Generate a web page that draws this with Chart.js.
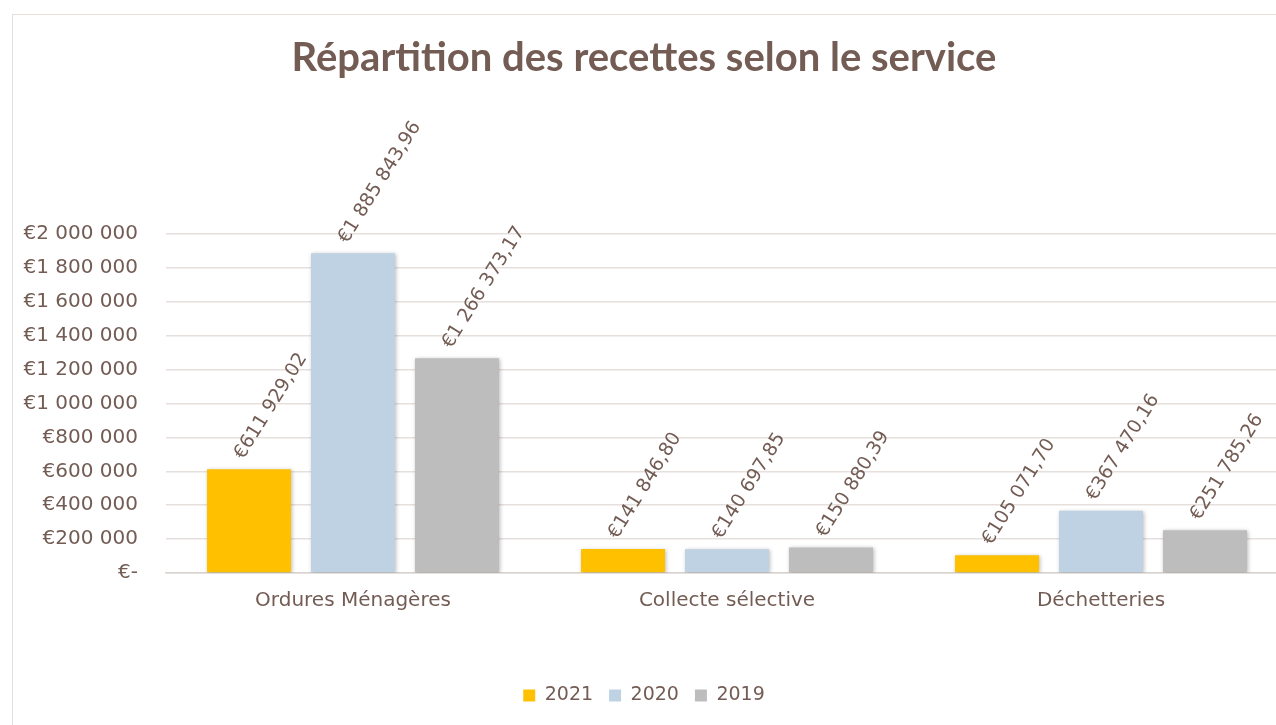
<!DOCTYPE html>
<html lang="fr">
<head>
<meta charset="utf-8">
<title>Répartition des recettes selon le service</title>
<script src="https://cdn.jsdelivr.net/npm/chart.js@4.4.1/dist/chart.umd.min.js"></script>
<style>
    html, body {
        margin: 0;
        padding: 0;
        background: #ffffff;
        overflow: hidden;
        width: 1276px;
        height: 725px;
    }
    .frame {
        position: absolute;
        left: 12px;
        top: 14px;
        width: 1400px;
        height: 800px;
        border: 1px solid #e6e0dd;
    }
    #recettesChart {
        position: absolute;
        left: 0;
        top: 0;
    }
</style>
</head>
<body>
<div class="frame"></div>
<canvas id="recettesChart" width="1300" height="725"></canvas>

<script>
// Chart data
const categories = ['Ordures Ménagères', 'Collecte sélective', 'Déchetteries'];
const years = ['2021', '2020', '2019'];
const values2021 = [611929.02, 141846.80, 105071.70];
const values2020 = [1885843.96, 140697.85, 367470.16];
const values2019 = [1266373.17, 150880.39, 251785.26];
const yTicks = [0, 200000, 400000, 600000, 800000, 1000000, 1200000, 1400000, 1600000, 1800000, 2000000];

const brown = '#735c54';
const gridColor = '#e6e0dd';

// "€1 885 843,96" style formatting
function groupDigits(n) {
    return String(n).replace(/\B(?=(\d{3})+(?!\d))/g, ' ');
}

function formatEuro(value) {
    const parts = value.toFixed(2).split('.');
    return '€' + groupDigits(parts[0]) + ',' + parts[1];
}

function formatTick(value) {
    if (value === 0) return '€-';
    return '€' + groupDigits(Math.round(value));
}

// Soft shadow under the bars, like the Excel original
const barShadow = {
    id: 'barShadow',
    beforeDatasetsDraw(chart) {
        const ctx = chart.ctx;
        ctx.save();
        ctx.shadowColor = 'rgba(0, 0, 0, 0.28)';
        ctx.shadowBlur = 4;
        ctx.shadowOffsetX = 1;
        ctx.shadowOffsetY = 1;
    },
    afterDatasetsDraw(chart) {
        chart.ctx.restore();
    }
};

// Rotated value labels above each bar
const valueLabels = {
    id: 'valueLabels',
    afterDatasetsDraw(chart) {
        const ctx = chart.ctx;
        ctx.save();
        ctx.fillStyle = brown;
        ctx.font = '19px "DejaVu Sans", sans-serif';
        ctx.textAlign = 'left';
        ctx.textBaseline = 'middle';
        chart.data.datasets.forEach(function (ds, i) {
            const meta = chart.getDatasetMeta(i);
            meta.data.forEach(function (bar, j) {
                ctx.save();
                ctx.translate(bar.x - 10, bar.y - 12);
                ctx.rotate(-58 * Math.PI / 180);
                ctx.fillText(formatEuro(ds.data[j]), 0, 0);
                ctx.restore();
            });
        });
        ctx.restore();
    }
};

function initChart() {
    const ctx = document.getElementById('recettesChart');
    if (!ctx) return;

    new Chart(ctx, {
        type: 'bar',
        data: {
            labels: categories,
            datasets: [
                { label: years[0], data: values2021, backgroundColor: '#ffc000' },
                { label: years[1], data: values2020, backgroundColor: '#bed2e4' },
                { label: years[2], data: values2019, backgroundColor: '#bdbdbd' }
            ]
        },
        options: {
            responsive: false,
            animation: false,
            devicePixelRatio: 1,
            categoryPercentage: 0.834,
            barPercentage: 0.808,
            layout: {
                padding: { left: 0, right: 12, top: 14, bottom: 10 }
            },
            plugins: {
                title: {
                    display: true,
                    text: 'Répartition des recettes selon le service',
                    color: brown,
                    font: { family: 'Lato, sans-serif', size: 40, weight: 'bold' },
                    padding: { top: 20, bottom: 152 }
                },
                legend: {
                    position: 'bottom',
                    labels: {
                        color: brown,
                        font: { family: '"DejaVu Sans", sans-serif', size: 19 },
                        boxWidth: 12,
                        boxHeight: 12,
                        padding: 16,
                        useBorderRadius: false
                    }
                },
                tooltip: { enabled: false }
            },
            scales: {
                x: {
                    afterFit: function (scale) {
                        scale.height += 41;
                    },
                    grid: { display: false, drawTicks: false },
                    border: { display: true, color: '#d9d3d0', width: 1.5 },
                    ticks: {
                        color: brown,
                        font: { family: '"DejaVu Sans", sans-serif', size: 20 },
                        padding: 16
                    }
                },
                y: {
                    min: 0,
                    max: 2000000,
                    afterFit: function (scale) {
                        scale.width = 166;
                    },
                    afterBuildTicks: function (scale) {
                        scale.ticks = yTicks.map(function (v) { return { value: v }; });
                    },
                    grid: { color: gridColor, lineWidth: 1.5, drawTicks: false },
                    border: { display: false },
                    ticks: {
                        color: brown,
                        font: { family: '"DejaVu Sans", sans-serif', size: 20 },
                        padding: 28,
                        callback: function (value) {
                            return formatTick(value);
                        }
                    }
                }
            }
        },
        plugins: [barShadow, valueLabels]
    });
}

document.addEventListener('DOMContentLoaded', function () {
    initChart();
});
</script>
</body>
</html>
